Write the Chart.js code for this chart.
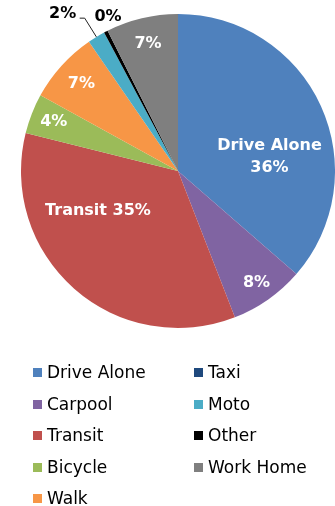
<!DOCTYPE html>
<html>
<head>
<meta charset="utf-8">
<script src="https://cdn.jsdelivr.net/npm/chart.js@4.4.1/dist/chart.umd.min.js"></script>
<style>
  html, body { margin: 0; padding: 0; background: #fff; }
  #wrap { position: relative; width: 335px; height: 506px; overflow: hidden; }
  #chartBox { position: absolute; left: 0; top: 0; width: 335px; height: 340px; }
  #legend { position: absolute; left: 0; top: 0; width: 335px; height: 506px; pointer-events: none; }
  .item { position: absolute; font-family: "DejaVu Sans", sans-serif; font-size: 17px; color: #000; line-height: 20px; white-space: nowrap; }
  .item .sw { display: inline-block; width: 9px; height: 9px; margin-right: 5px; vertical-align: 1px; }
</style>
</head>
<body>
<div id="wrap">
  <div id="chartBox"><canvas id="pie"></canvas></div>
  <div id="legend"></div>
</div>
<script>
// 데이터
const modes = ['Drive Alone', 'Carpool', 'Transit', 'Bicycle', 'Walk', 'Taxi', 'Moto', 'Other', 'Work Home'];
const shares = [36.4, 7.7, 34.8, 4.1, 7.4, 0, 1.8, 0.4, 7.4];
const colors = ['#4F81BD', '#8064A2', '#C0504D', '#9BBB59', '#F79646', '#1F497D', '#4BACC6', '#000000', '#7F7F7F'];

// 라벨 위치 (반지름 비율, 각도 보정 도)
const labelRadius = [0.59, 0.87, 0.57, 0.85, 0.83, 0, 1.24, 1.08, 0.83];
const labelShift = [15.5, 0, 22, 0, 0, 0, -5, 3, 0];

const total = shares.reduce((a, b) => a + b, 0);

const sliceLabels = {
    id: 'sliceLabels',
    afterDatasetsDraw(chart) {
        const ctx = chart.ctx;
        const arcs = chart.getDatasetMeta(0).data;
        ctx.save();
        ctx.textAlign = 'center';
        ctx.textBaseline = 'middle';
        arcs.forEach((arc, i) => {
            if (shares[i] === 0) return;
            const pct = Math.round(shares[i] / total * 100) + '%';
            const mid = (arc.startAngle + arc.endAngle) / 2;
            const a = mid + labelShift[i] * Math.PI / 180;
            const r = arc.outerRadius * labelRadius[i];
            const x = arc.x + Math.cos(a) * r;
            const y = arc.y + Math.sin(a) * r;
            const outside = labelRadius[i] > 1;
            ctx.fillStyle = outside ? '#000' : '#fff';
            ctx.font = 'bold 16px "DejaVu Sans", sans-serif';
            if (i === 0) {
                ctx.fillText(modes[i], x, y - 11);
                ctx.fillText(pct, x, y + 11);
            } else if (i === 2) {
                ctx.fillText(modes[i] + ' ' + pct, x, y);
            } else {
                ctx.fillText(pct, x, y);
            }
            // 리더선
            if (i === 6) {
                const ex = arc.x + Math.cos(mid) * arc.outerRadius;
                const ey = arc.y + Math.sin(mid) * arc.outerRadius;
                ctx.strokeStyle = '#222';
                ctx.lineWidth = 1;
                ctx.beginPath();
                ctx.moveTo(x + 17, y + 4);
                ctx.lineTo(x + 22, y + 4);
                ctx.lineTo(ex, ey);
                ctx.stroke();
            }
        });
        ctx.restore();
    }
};

new Chart(document.getElementById('pie'), {
    type: 'pie',
    data: {
        labels: modes,
        datasets: [{ data: shares, backgroundColor: colors, borderWidth: 0 }]
    },
    options: {
        responsive: true,
        maintainAspectRatio: false,
        animation: false,
        layout: { padding: { left: 21, right: 0, top: 14, bottom: 12 } },
        plugins: { legend: { display: false }, tooltip: { enabled: false } }
    },
    plugins: [sliceLabels]
});

// 범례 (2열, 세로 순서)
const legend = document.getElementById('legend');
modes.forEach((m, i) => {
    const col = i < 5 ? 0 : 1;
    const row = i < 5 ? i : i - 5;
    const el = document.createElement('div');
    el.className = 'item';
    el.style.left = (col === 0 ? 33 : 194) + 'px';
    el.style.top = (362 + row * 31.6) + 'px';
    el.innerHTML = '<span class="sw" style="background:' + colors[i] + '"></span>' + m;
    legend.appendChild(el);
});
</script>
</body>
</html>
